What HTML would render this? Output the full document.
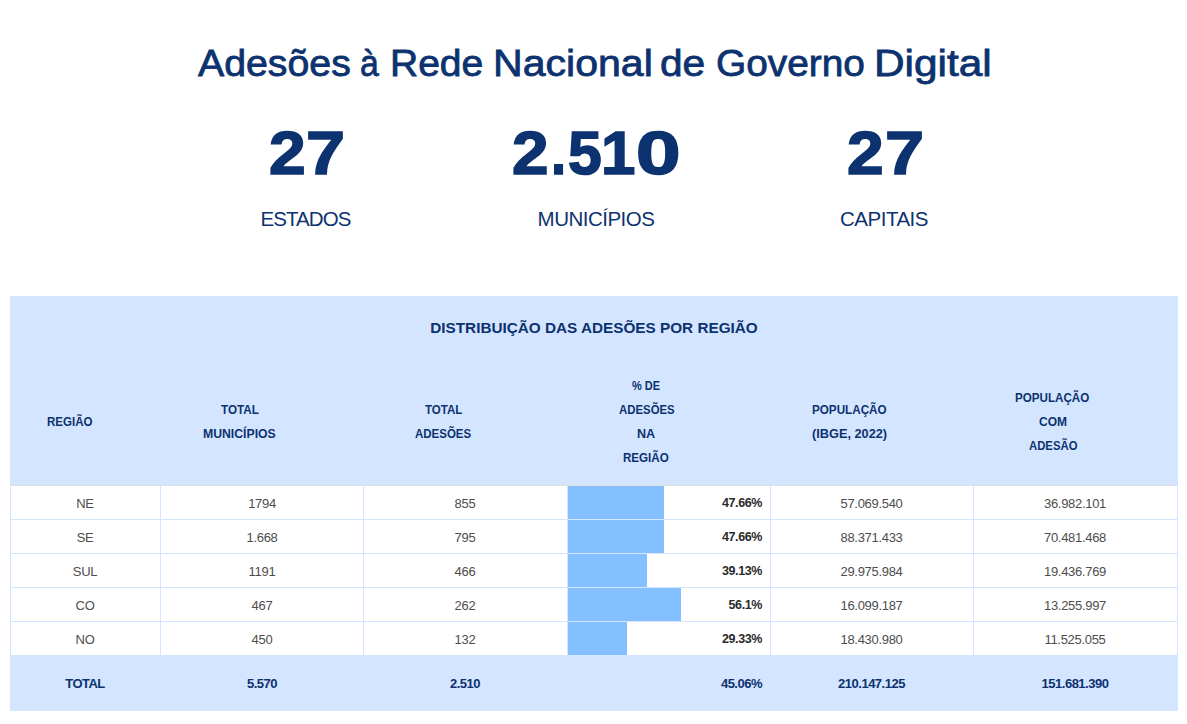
<!DOCTYPE html>
<html><head><meta charset="utf-8">
<style>
*{margin:0;padding:0;box-sizing:border-box}
html,body{width:1187px;height:724px;background:#fff;overflow:hidden}
body{position:relative;font-family:"Liberation Sans",sans-serif;color:#0c326f}
.t{position:absolute;white-space:nowrap;line-height:1}
.c{transform:translateX(-50%)}
.r{transform:translateX(-100%)}
.tw{top:44.7px;font-size:37.5px;-webkit-text-stroke:0.8px #0c326f;transform-origin:0 0}
.num{font-size:61px;font-weight:bold;top:123.4px;transform-origin:0 0;-webkit-text-stroke:1.6px #0c326f}
.lab{font-size:20.5px;top:208.9px;letter-spacing:-0.5px}
#tbl{position:absolute;left:10px;top:296px;width:1168px;height:415px;background:#d4e5ff}
#body{position:absolute;left:0;top:189px;width:1168px;height:170px;background:#fff;border-top:1px solid #dedfe2}
.hl{position:absolute;left:0;width:1168px;height:1px;background:#d4e5ff}
.vl{position:absolute;top:0;width:1px;height:170px;background:#d4e5ff}
.bar{position:absolute;left:558px;height:33px;background:#84c0ff}
.h{font-size:12.5px;font-weight:bold;color:#0c326f;margin-top:-1px;transform-origin:0 0}
.d{font-size:13px;color:#4d4d4d;letter-spacing:-0.3px}
.p{font-size:12.5px;font-weight:bold;color:#2b2b2b;letter-spacing:-0.4px}
.tot{font-size:13px;font-weight:bold;color:#0c326f;letter-spacing:-0.5px}
</style></head><body>
<div class="t tw" style="left:198.3px;transform:scaleX(1.047)">Adesões</div>
<div class="t tw" style="left:360.4px;transform:scaleX(0.900)">à</div>
<div class="t tw" style="left:390.4px;transform:scaleX(1.040)">Rede</div>
<div class="t tw" style="left:492.5px;transform:scaleX(1.095)">Nacional</div>
<div class="t tw" style="left:659.7px;transform:scaleX(1.083)">de</div>
<div class="t tw" style="left:715.8px;transform:scaleX(1.035)">Governo</div>
<div class="t tw" style="left:874.4px;transform:scaleX(1.129)">Digital</div>
<div class="t num" style="left:268.8px;transform:scaleX(1.081)">2</div>
<div class="t num" style="left:306.4px;transform:scaleX(1.150)">7</div>
<div class="t num" style="left:512.2px;transform:scaleX(1.077)">2</div>
<div class="t num" style="left:550.5px;transform:scaleX(0.891)">.</div>
<div class="t num" style="left:567.7px;transform:scaleX(0.994)">5</div>
<div class="t num" style="left:601.3px;transform:scaleX(1.013)">1</div>
<div class="t num" style="left:635.9px;transform:scaleX(1.313)">0</div>
<div class="t num" style="left:847.1px;transform:scaleX(1.081)">2</div>
<div class="t num" style="left:884.7px;transform:scaleX(1.150)">7</div>
<div class="t c lab" style="left:305.5px;letter-spacing:-0.9px">ESTADOS</div>
<div class="t c lab" style="left:596px">MUNICÍPIOS</div>
<div class="t c lab" style="left:884px">CAPITAIS</div>

<div id="tbl">
  <div class="t c" style="left:584px;top:23.6px;font-size:15.3px;font-weight:bold">DISTRIBUIÇÃO DAS ADESÕES POR REGIÃO</div>
  <div class="t h" style="left:36.9px;top:121px;transform:scaleX(0.921)">REGIÃO</div>
  <div class="t h" style="left:211.0px;top:109px;transform:scaleX(0.935)">TOTAL</div>
  <div class="t h" style="left:193.0px;top:133px;transform:scaleX(0.979)">MUNICÍPIOS</div>
  <div class="t h" style="left:414.5px;top:109px;transform:scaleX(0.922)">TOTAL</div>
  <div class="t h" style="left:405.0px;top:133px;transform:scaleX(0.918)">ADESÕES</div>
  <div class="t h" style="left:622.1px;top:85px;transform:scaleX(0.878)">% DE</div>
  <div class="t h" style="left:608.7px;top:109px;transform:scaleX(0.911)">ADESÕES</div>
  <div class="t h" style="left:626.6px;top:133px;transform:scaleX(1.006)">NA</div>
  <div class="t h" style="left:613.2px;top:157px;transform:scaleX(0.927)">REGIÃO</div>
  <div class="t h" style="left:801.7px;top:109px;transform:scaleX(0.934)">POPULAÇÃO</div>
  <div class="t h" style="left:801.6px;top:133px;transform:scaleX(1.019)">(IBGE, 2022)</div>
  <div class="t h" style="left:1005.1px;top:97px;transform:scaleX(0.929)">POPULAÇÃO</div>
  <div class="t h" style="left:1028.8px;top:121px;transform:scaleX(0.959)">COM</div>
  <div class="t h" style="left:1018.7px;top:145px;transform:scaleX(0.906)">ADESÃO</div>

  <div id="body">
    <div class="bar" style="top:0;width:96px"></div>
    <div class="bar" style="top:34px;width:96px"></div>
    <div class="bar" style="top:68px;width:79px"></div>
    <div class="bar" style="top:102px;width:113px"></div>
    <div class="bar" style="top:136px;width:59px"></div>
    <div class="hl" style="top:33px"></div>
    <div class="hl" style="top:67px"></div>
    <div class="hl" style="top:101px"></div>
    <div class="hl" style="top:135px"></div>
    <div class="vl" style="left:0"></div>
    <div class="vl" style="left:150px"></div>
    <div class="vl" style="left:353px"></div>
    <div class="vl" style="left:557px"></div>
    <div class="vl" style="left:760px"></div>
    <div class="vl" style="left:963px"></div>
    <div class="vl" style="left:1167px"></div>
  </div>
</div>
<div id="rows">
<div class="t c d" style="left:85px;top:497px">NE</div>
<div class="t c d" style="left:262px;top:497px">1794</div>
<div class="t c d" style="left:465px;top:497px">855</div>
<div class="t r p" style="left:762px;top:497px">47.66%</div>
<div class="t c d" style="left:871.5px;top:497px">57.069.540</div>
<div class="t c d" style="left:1075px;top:497px">36.982.101</div>
<div class="t c d" style="left:85px;top:531px">SE</div>
<div class="t c d" style="left:262px;top:531px">1.668</div>
<div class="t c d" style="left:465px;top:531px">795</div>
<div class="t r p" style="left:762px;top:531px">47.66%</div>
<div class="t c d" style="left:871.5px;top:531px">88.371.433</div>
<div class="t c d" style="left:1075px;top:531px">70.481.468</div>
<div class="t c d" style="left:85px;top:565px">SUL</div>
<div class="t c d" style="left:262px;top:565px">1191</div>
<div class="t c d" style="left:465px;top:565px">466</div>
<div class="t r p" style="left:762px;top:565px">39.13%</div>
<div class="t c d" style="left:871.5px;top:565px">29.975.984</div>
<div class="t c d" style="left:1075px;top:565px">19.436.769</div>
<div class="t c d" style="left:85px;top:599px">CO</div>
<div class="t c d" style="left:262px;top:599px">467</div>
<div class="t c d" style="left:465px;top:599px">262</div>
<div class="t r p" style="left:762px;top:599px">56.1%</div>
<div class="t c d" style="left:871.5px;top:599px">16.099.187</div>
<div class="t c d" style="left:1075px;top:599px">13.255.997</div>
<div class="t c d" style="left:85px;top:633px">NO</div>
<div class="t c d" style="left:262px;top:633px">450</div>
<div class="t c d" style="left:465px;top:633px">132</div>
<div class="t r p" style="left:762px;top:633px">29.33%</div>
<div class="t c d" style="left:871.5px;top:633px">18.430.980</div>
<div class="t c d" style="left:1075px;top:633px">11.525.055</div>
<div class="t c tot" style="left:85px;top:677px">TOTAL</div>
<div class="t c tot" style="left:262px;top:677px">5.570</div>
<div class="t c tot" style="left:465px;top:677px">2.510</div>
<div class="t r tot" style="left:762px;top:677px">45.06%</div>
<div class="t c tot" style="left:871.5px;top:677px">210.147.125</div>
<div class="t c tot" style="left:1075px;top:677px">151.681.390</div>
</div>
</body></html>
